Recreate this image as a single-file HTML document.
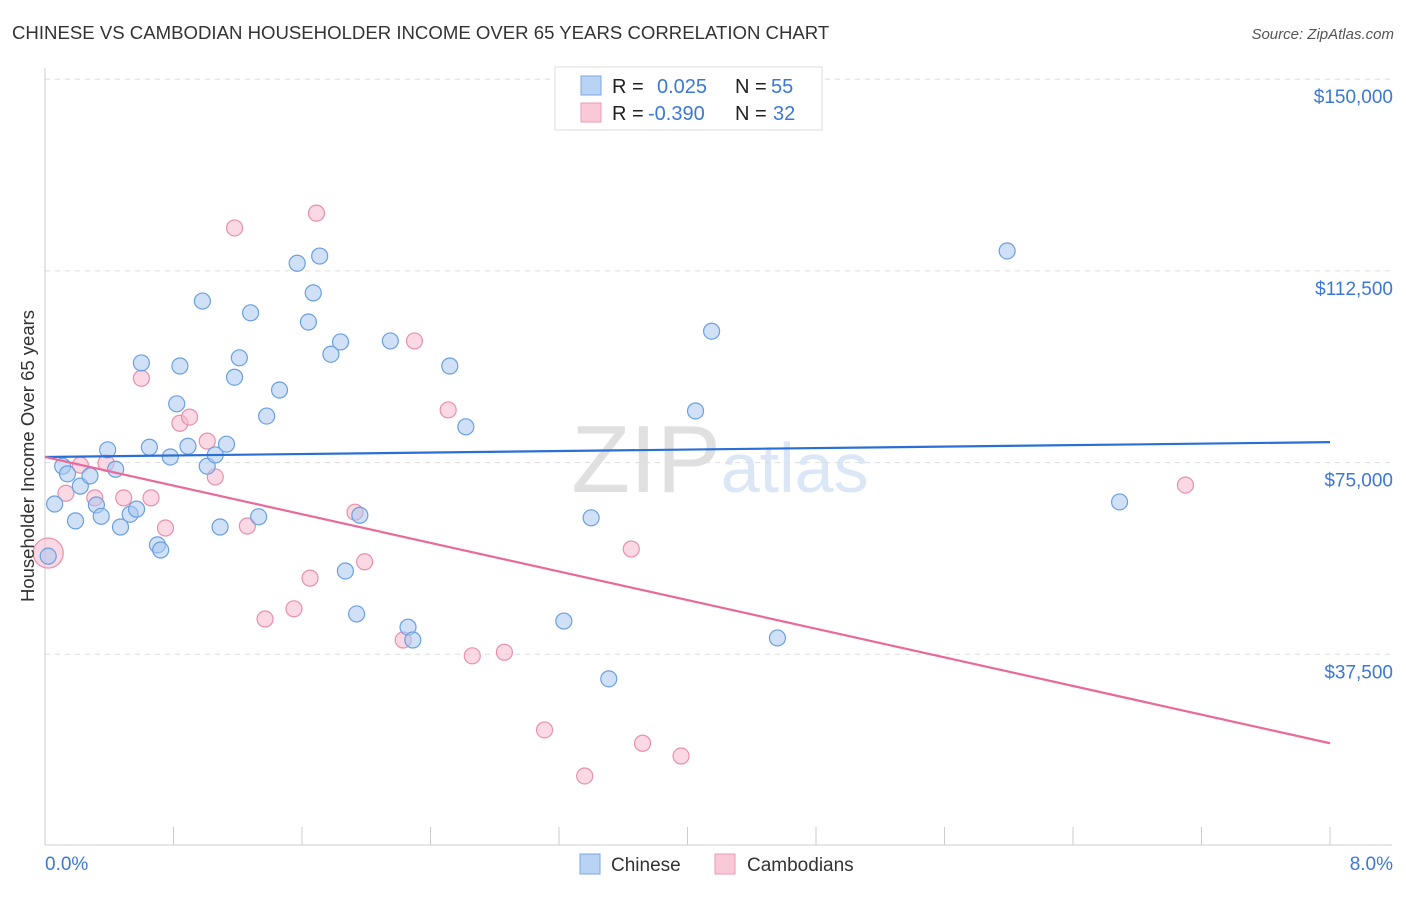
<!DOCTYPE html>
<html><head><meta charset="utf-8"><style>
body{margin:0;background:#fff;font-family:"Liberation Sans",sans-serif;}
svg text{font-family:"Liberation Sans",sans-serif;}
</style></head><body>
<svg id="chart" width="1406" height="892" xmlns="http://www.w3.org/2000/svg">
<text x="12" y="39" font-size="18.6" fill="#333">CHINESE VS CAMBODIAN HOUSEHOLDER INCOME OVER 65 YEARS CORRELATION CHART</text>
<text x="1394" y="39" font-size="15" fill="#555" font-style="italic" text-anchor="end">Source: ZipAtlas.com</text>
<text x="720" y="492" font-size="96" fill="#e4e4e4" text-anchor="middle" font-family="Liberation Serif"><tspan fill="#e0e0e0">ZIP</tspan><tspan fill="#dbe7f6" font-family="Liberation Sans" font-size="70">atlas</tspan></text>
<g id="grid"></g>
<g id="axes"></g>
<g id="marks"></g>
<text x="34" y="456" font-size="18.5" fill="#333" text-anchor="middle" transform="rotate(-90 34 456)">Householder Income Over 65 years</text>
<g>
<rect x="555" y="67" width="267" height="63" fill="#fff" stroke="#ddd"/>
<rect x="581" y="76" width="20" height="19" fill="#b9d3f5" stroke="#7aa7e3"/>
<rect x="581" y="103" width="20" height="19" fill="#f9c9d8" stroke="#ec9ab6"/>
<text x="612" y="93" font-size="20" fill="#222">R = </text><text x="657" y="93" font-size="20" fill="#3b78d6">0.025</text>
<text x="735" y="93" font-size="20" fill="#222">N = </text><text x="771" y="93" font-size="20" fill="#3b78d6">55</text>
<text x="612" y="120" font-size="20" fill="#222">R = </text><text x="648" y="120" font-size="20" fill="#3b78d6">-0.390</text>
<text x="735" y="120" font-size="20" fill="#222">N = </text><text x="773" y="120" font-size="20" fill="#3b78d6">32</text>
</g>
<g>
<rect x="580" y="854" width="20" height="20" fill="#b9d3f5" stroke="#7aa7e3"/>
<text x="611" y="871" font-size="19" fill="#333">Chinese</text>
<rect x="715" y="854" width="20" height="20" fill="#f9c9d8" stroke="#ec9ab6"/>
<text x="747" y="871" font-size="19" fill="#333">Cambodians</text>
</g>
</svg>
<script>
const xTicks=[0,0.8,1.6,2.4,3.2,4,4.8,5.6,6.4,7.2,8];
const xTickLabels=["0.0%","8.0%"];
const yTicks=[37500,75000,112500,150000];
const yTickLabels=["$37,500","$75,000","$112,500","$150,000"];
const chineseX=[0.02,0.06,0.11,0.14,0.19,0.22,0.28,0.32,0.35,0.39,0.44,0.47,0.53,0.57,0.60,0.65,0.70,0.72,0.78,0.82,0.84,0.89,0.98,1.01,1.06,1.09,1.13,1.18,1.21,1.28,1.33,1.38,1.46,1.57,1.64,1.67,1.71,1.78,1.84,1.87,1.94,1.96,2.15,2.26,2.29,2.52,2.62,3.23,3.40,3.51,4.05,4.15,4.56,5.99,6.69];
const chineseY=[56.7,66.9,74.3,72.8,63.6,70.4,72.4,66.7,64.5,77.5,73.7,62.4,64.9,65.9,94.5,78.0,58.9,57.9,76.1,86.5,93.9,78.2,106.6,74.3,76.5,62.4,78.6,91.7,95.5,104.3,64.4,84.1,89.2,114.0,102.5,108.2,115.4,96.2,98.6,53.8,45.4,64.7,98.8,42.8,40.3,93.9,82.0,44.0,64.2,32.7,85.1,100.7,40.7,116.4,67.3];
const cambX=[0.02,0.13,0.22,0.31,0.38,0.49,0.60,0.66,0.75,0.84,0.90,1.01,1.06,1.18,1.26,1.37,1.55,1.65,1.69,1.93,1.99,2.23,2.30,2.51,2.66,2.86,3.11,3.36,3.65,3.72,3.96,7.10];
const cambY=[57.3,69.0,74.5,68.1,74.9,68.1,91.5,68.1,62.2,82.7,83.9,79.2,72.2,120.9,62.6,44.4,46.4,52.4,123.8,65.3,55.6,40.3,98.8,85.3,37.2,37.9,22.7,13.7,58.1,20.1,17.6,70.6];
const chineseTrend=[76.1,79.0];
const cambTrend=[76.1,20.1];
const NS="http://www.w3.org/2000/svg";
const X0=45,X1=1330,Y0=846,PX_PER=191.7/37500;
function sx(p){return X0+p/8*(X1-X0);}
function sy(v){return Y0-v*PX_PER;}
function mk(tag,attrs,parent){const e=document.createElementNS(NS,tag);for(const k in attrs)e.setAttribute(k,attrs[k]);document.getElementById(parent).appendChild(e);return e;}
yTicks.forEach((t,i)=>{
 const l=mk('line',{x1:45,x2:1392,y1:sy(t),y2:sy(t),stroke:'#ddd','stroke-dasharray':'5,5'},'grid');
 
 
 const tx=mk('text',{x:1393,y:sy(t)+24,'font-size':19,fill:'#3b78d6','text-anchor':'end'},'axes');
 tx.textContent=yTickLabels[i];
 
 
});
const ax=mk('line',{x1:45,x2:1392,y1:845,y2:845,stroke:'#ccc'},'axes');


const ay=mk('line',{x1:45,x2:45,y1:68,y2:845,stroke:'#ccc'},'axes');


xTicks.forEach(t=>{
 const l=mk('line',{x1:sx(t),x2:sx(t),y1:827,y2:845,stroke:'#ccc'},'axes');
 
 
});
const xl0=mk('text',{x:45,y:870,'font-size':19,fill:'#3b78d6'},'axes');
xl0.textContent=xTickLabels[0];


const xl1=mk('text',{x:1393,y:870,'font-size':19,fill:'#3b78d6','text-anchor':'end'},'axes');
xl1.textContent=xTickLabels[1];


function pts(xs,ys,fill,stroke,name){
 xs.forEach((x,i)=>{
  const r=(name==='cambodian-point'&&i===0)?15:8;
  const c=mk('circle',{cx:sx(x),cy:sy(ys[i]*1000),r:r,fill:fill,'fill-opacity':0.55,stroke:stroke,'stroke-width':1.2},'marks');
  
  
 });
}
pts(cambX,cambY,'#f7b9cd','#e98fae','cambodian-point');
pts(chineseX,chineseY,'#a9c8f0','#6a9fe0','chinese-point');
const t1=mk('line',{x1:sx(0),x2:sx(8),y1:sy(chineseTrend[0]*1000),y2:sy(chineseTrend[1]*1000),stroke:'#2a6fd6','stroke-width':2.2},'marks');


const t2=mk('line',{x1:sx(0),x2:sx(8),y1:sy(cambTrend[0]*1000),y2:sy(cambTrend[1]*1000),stroke:'#e8699a','stroke-width':2.2},'marks');


</script>
</body></html>
